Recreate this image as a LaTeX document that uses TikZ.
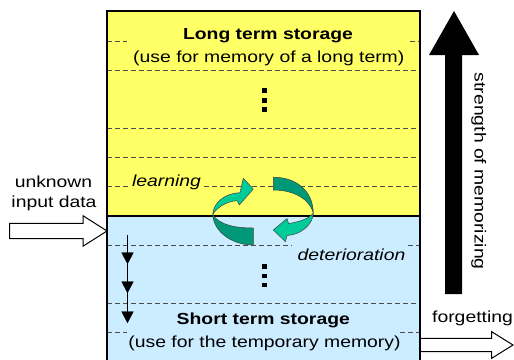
\documentclass[tikz,border=0pt]{standalone}
\usepackage{fontspec}
\setmainfont{Liberation Sans}[FakeStretch=1.21]
\definecolor{ylw}{RGB}{255,255,102}
\definecolor{blu}{RGB}{204,236,255}
\definecolor{grL}{RGB}{0,204,153}
\definecolor{grD}{RGB}{0,153,119}
\tikzset{
  dashline/.style={draw=black!70, dash pattern=on 5pt off 3pt, line width=0.8pt},
  txt/.style={font=\fontsize{16}{19}\selectfont, inner sep=0pt, anchor=base},
  hollow/.style={draw=black, fill=white, line width=1pt, line join=miter},
  ribbonL/.style={fill=grL, draw=black!75, line width=0.5pt, line join=round},
  ribbonD/.style={fill=grD, draw=black!75, line width=0.5pt, line join=round},
  tri/.style={fill=black, draw=black, line width=0.4pt},
  dotsq/.style={fill=black}
}
\begin{document}
\begin{tikzpicture}[x=1pt,y=-1pt]
\useasboundingbox (0,0) rectangle (514,359);
\clip (0,0) rectangle (514,359);
% panels
\fill[ylw] (107,11) rectangle (420,215.6);
\fill[blu] (107,215.6) rectangle (420,370);
% dashed levels
\draw[dashline] (107,41) -- (127,41);
\draw[dashline] (410,41) -- (420,41);
\draw[dashline] (107,70.1) -- (420,70.1);
\draw[dashline] (107,128.3) -- (420,128.3);
\draw[dashline] (107,157.4) -- (420,157.4);
\draw[dashline] (107,186.5) -- (130,186.5);
\draw[dashline] (204,186.5) -- (420,186.5);
\draw[dashline] (107,245) -- (292,245);
\draw[dashline] (408,245) -- (420,245);
\draw[dashline] (107,303.5) -- (420,303.5);
\draw[dashline] (107,332.5) -- (127,332.5);
\draw[dashline] (400,332.5) -- (420,332.5);
% vertical dots
\foreach \yy in {90.5,100.5,109.5,266.5,276,285}
  \fill[dotsq] (262.2,\yy-2.2) rectangle (266.8,\yy+2.2);
% deterioration steps
\draw[line width=1pt] (127.5,235) -- (127.5,313);
\foreach \yy in {252.7,281.7,311.7}
  \draw[tri] (121.7,\yy) -- (133.3,\yy) -- (127.5,\yy+11) -- cycle;
% box border
\draw[line width=2pt] (107,370) -- (107,11) -- (420,11) -- (420,370);
\draw[line width=1.8pt] (107,215.6) -- (420,215.6);
% green ribbon arrows
\draw[ribbonD] (212.7,215) .. controls (214,232) and (232,245) .. (253.3,245)
  -- (253.3,228) .. controls (235,228) and (220,225) .. (212.7,215) -- cycle;
\draw[ribbonL] (253.3,189) -- (243.3,178.3) -- (240,192.7)
  .. controls (226,193) and (213,202) .. (212.7,215)
  .. controls (215,209) and (226,201) .. (237.3,200.7) -- (239.3,205) -- cycle;
\draw[ribbonD] (273.3,177.3) .. controls (295,177) and (313,190) .. (313.3,213)
  .. controls (310,200) and (295,190) .. (273.3,190) -- cycle;
\draw[ribbonL] (273.3,230) -- (287,218.5) -- (288.5,223.5)
  .. controls (300,222) and (310,218) .. (313.3,213)
  .. controls (313,225) and (300,235) .. (287,235.5) -- (285.5,241.7) -- cycle;
% texts
\node[txt, font=\fontsize{16}{19}\selectfont\bfseries] (lts) at (268,39) {Long term storage};
\node[txt] (ltsu) at (268.8,62.5) {(use for memory of a long term)};
\node[txt, font=\fontsize{16}{19}\selectfont\bfseries] (sts) at (263.3,324.3) {Short term storage};
\node[txt] (stsu) at (264.5,347) {(use for the temporary memory)};
\node[txt, font=\fontsize{16}{19}\selectfont\itshape] (learn) at (166.5,186) {learning};
\node[txt, font=\fontsize{16}{19}\selectfont\itshape] (deter) at (351.5,260) {deterioration};
\node[txt] (unk) at (53.5,187.3) {unknown};
\node[txt] (inp) at (54,207.8) {input data};
\node[txt] (forg) at (472.5,322.3) {forgetting};
\node[txt, rotate=-90] (strength) at (474.5,171.3) {strength of memorizing};
% block arrows
\draw[hollow] (9.5,223.3) -- (83,223.3) -- (83,215.7) -- (107,231) -- (83,246.2) -- (83,238.5) -- (9.5,238.5) -- cycle;
\draw[hollow] (421,338.3) -- (491.7,338.3) -- (491.7,331.7) -- (513,345) -- (491.7,358.3) -- (491.7,351.7) -- (421,351.7);
\fill[black] (445,294) -- (445,55) -- (429,55) -- (454,11) -- (479,55) -- (462,55) -- (462,294) -- cycle;
\end{tikzpicture}
\end{document}
